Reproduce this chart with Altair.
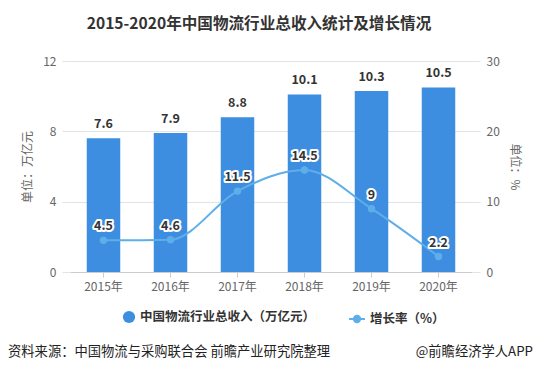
import altair as alt
import pandas as pd

years = ["2015年", "2016年", "2017年", "2018年", "2019年", "2020年"]
revenue = [7.6, 7.9, 8.8, 10.1, 10.3, 10.5]
growth = [4.5, 4.6, 11.5, 14.5, 9, 2.2]
revenue_name = "中国物流行业总收入（万亿元）"
growth_name = "增长率（%）"
left_ticks = [0, 4, 8, 12]
right_ticks = [0, 10, 20, 30]
title_text = "2015-2020年中国物流行业总收入统计及增长情况"
source_text = "资料来源：中国物流与采购联合会 前瞻产业研究院整理"
credit_text = "@前瞻经济学人APP"

FONT = "Noto Sans CJK SC"
BAR = "#3d8ee0"
LINE = "#5eaee9"
GRID = "#e3e3e3"
LAB = "#666666"

df = pd.DataFrame({"year": years, "revenue": revenue, "growth": growth,
                   "rs": revenue_name, "gs": growth_name})

x = alt.X("year:N", sort=years, title=None,
          scale=alt.Scale(paddingInner=0.5, paddingOuter=0.25),
          axis=alt.Axis(labelAngle=0, labelColor=LAB, labelFontSize=12, labelFont=FONT,
                        domainColor="#cccccc", tickColor="#cccccc", tickSize=5,
                        labelPadding=4, grid=False))

axis_left = alt.Axis(values=left_ticks, grid=True, gridColor=GRID, tickColor=GRID, tickSize=8,
                     domain=False, labelColor=LAB, labelFontSize=12, labelFont=FONT,
                     title="单位：万亿元", titleColor=LAB, titleFontSize=12, titleFont=FONT,
                     titleFontWeight="normal", titlePadding=8, labelPadding=6)
axis_right = alt.Axis(values=right_ticks, grid=False, tickColor=GRID, tickSize=8, orient="right",
                      domain=False, labelColor=LAB, labelFontSize=12, labelFont=FONT,
                      title="单位：%", titleColor=LAB, titleFontSize=12, titleFont=FONT,
                      titleFontWeight="normal", titlePadding=8, labelPadding=6)

y_left = alt.Y("revenue:Q", scale=alt.Scale(domain=[0, 12]), axis=axis_left)
y_right = alt.Y("growth:Q", scale=alt.Scale(domain=[0, 30]), axis=axis_right)

base = alt.Chart(df)

bars = base.mark_bar(color=BAR).encode(
    x=x, y=y_left,
    color=alt.Color("rs:N", scale=alt.Scale(range=[BAR]),
                    legend=alt.Legend(title=None, symbolType="circle", symbolSize=150,
                                      labelFontSize=12.5, labelFont=FONT, labelColor="#333",
                                      labelFontWeight="bold", labelLimit=400,
                                      orient="none", legendX=52, legendY=249)))
bar_labels = base.mark_text(baseline="bottom", dy=-7, fontSize=12.5, fontWeight="bold",
                            font=FONT, color="#333333").encode(
    x=x, y=y_left, text=alt.Text("revenue:Q", format=".1f"))

line = base.mark_line(interpolate="monotone", strokeWidth=2).encode(
    x=x, y=y_right,
    stroke=alt.Stroke("gs:N", scale=alt.Scale(range=[LINE]),
                      legend=alt.Legend(title=None,
                                        symbolType="M-1,0L1,0M-0.4,0A0.4,0.4 0 1,1 0.4,0A0.4,0.4 0 1,1 -0.4,0Z",
                                        symbolSize=250, symbolStrokeWidth=2, symbolFillColor=LINE,
                                        labelFontSize=12.5, labelFont=FONT, labelColor="#333",
                                        labelFontWeight="bold", labelLimit=300,
                                        orient="none", legendX=278, legendY=249)))
points = base.mark_circle(size=55, color=LINE, opacity=1).encode(x=x, y=y_right)
line_halo = base.mark_text(baseline="bottom", dy=-7, fontSize=12.5, fontWeight="bold", font=FONT,
                           color="white", stroke="white", strokeWidth=4, strokeJoin="round").encode(
    x=x, y=y_right, text=alt.Text("growth:Q"))
line_labels = base.mark_text(baseline="bottom", dy=-7, fontSize=12.5, fontWeight="bold", font=FONT,
                             color="#333333").encode(
    x=x, y=y_right, text=alt.Text("growth:Q"))

foot_df = pd.DataFrame({"t": [source_text]})
cred_df = pd.DataFrame({"t": [credit_text]})
footer = alt.Chart(foot_df).mark_text(align="left", baseline="middle", fontSize=13.3, font=FONT,
                                      color="#222222").encode(
    x=alt.value(-62), y=alt.value(291), text="t:N")
credit = alt.Chart(cred_df).mark_text(align="right", baseline="middle", fontSize=13.3, font=FONT,
                                      color="#222222").encode(
    x=alt.value(463), y=alt.value(291), text="t:N")

left = alt.layer(bars, bar_labels)
right = alt.layer(line, points, line_halo, line_labels)

chart = alt.layer(left, right, footer, credit).resolve_scale(
    y="independent", color="independent", stroke="independent"
).properties(
    width=402, height=211,
    autosize=alt.AutoSizeParams(type="none"),
    padding={"left": 62, "top": 53, "right": 61, "bottom": 95},
    title=alt.TitleParams(title_text, font=FONT, fontSize=15.6, fontWeight="bold", color="#333333",
                          anchor="middle", offset=22, dx=-12),
).configure_view(stroke=None)

chart.save("out.html", embed_options={"renderer": "svg", "actions": False})
